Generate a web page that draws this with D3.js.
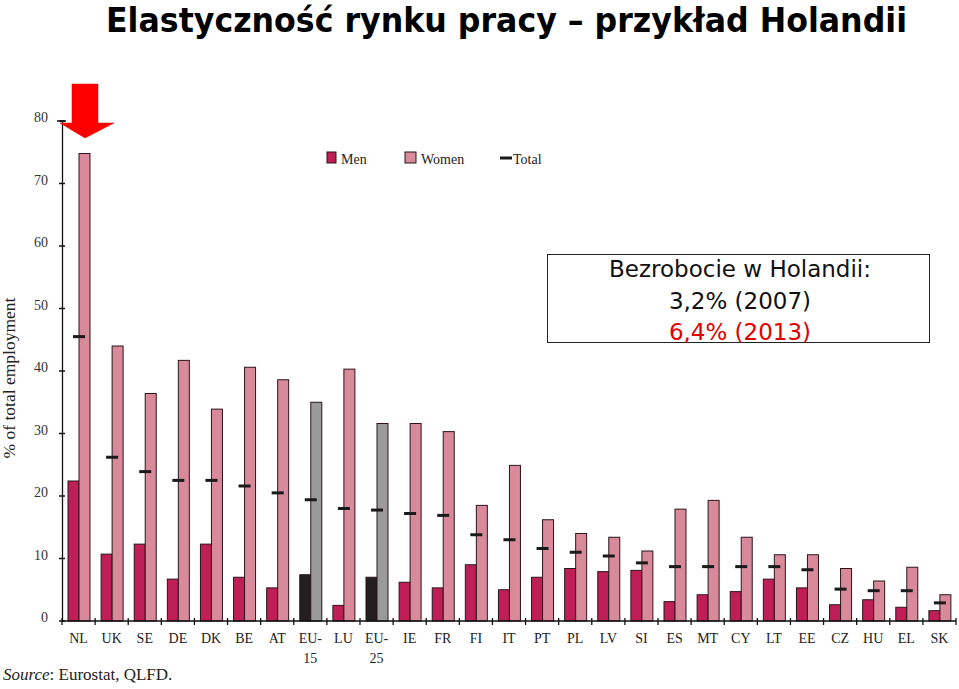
<!DOCTYPE html>
<html><head><meta charset="utf-8">
<script src="https://cdn.jsdelivr.net/npm/d3@7/dist/d3.min.js"></script>
<style>body{margin:0;background:#fff}svg{display:block}</style>
</head><body>
<script>
const categories = ["NL","UK","SE","DE","DK","BE","AT","EU-15","LU","EU-25","IE","FR","FI","IT","PT","PL","LV","SI","ES","MT","CY","LT","EE","CZ","HU","EL","SK"];
const men   = [22.4,10.7,12.3,6.7,12.3,7.0,5.3,7.4,2.5,7.0,6.2,5.3,9.0,5.0,7.0,8.4,7.9,8.1,3.1,4.2,4.7,6.7,5.3,2.6,3.4,2.2,1.65];
const women = [74.8,44.0,36.4,41.7,33.9,40.6,38.6,35.0,40.3,31.6,31.6,30.3,18.5,24.9,16.2,14.0,13.4,11.2,17.9,19.3,13.4,10.6,10.6,8.4,6.4,8.6,4.2];
const total = [45.5,26.2,23.9,22.5,22.5,21.6,20.5,19.4,18.0,17.75,17.2,16.9,13.8,13.0,11.6,11.0,10.4,9.3,8.7,8.7,8.7,8.7,8.2,5.1,4.85,4.85,2.9];
const yTicks = [0,10,20,30,40,50,60,70,80];
const aggregates = ["EU-15","EU-25"];

const W = 959, H = 689;
const svg = d3.select("body").append("svg").attr("width", W).attr("height", H);
const serif = "'Liberation Serif','Times New Roman',serif";

const x = d3.scaleBand().domain(categories).range([62, 956]);
const sub = d3.scaleBand().domain(["men","women"]).range([6, 28]);
const y = d3.scaleLinear().domain([0, 80]).range([621, 121]);

const colors = {men:"#BF1F56", women:"#D98A9A", aggMen:"#231F20", aggWomen:"#9A9A9A"};

// Title
svg.append("text").attr("x", 106).attr("y", 32)
  .attr("font-family", "'DejaVu Sans',Verdana,sans-serif").attr("font-weight", "bold")
  .attr("font-size", 33).attr("textLength", 801).attr("lengthAdjust", "spacingAndGlyphs")
  .text("Elastyczność rynku pracy – przykład Holandii");

const data = categories.map((c, i) => ({c, men: men[i], women: women[i], total: total[i]}));

const g = svg.append("g");
data.forEach(d => {
  const agg = aggregates.includes(d.c);
  ["men","women"].forEach(k => {
    g.append("rect")
      .attr("x", x(d.c) + sub(k)).attr("width", sub.bandwidth())
      .attr("y", y(d[k])).attr("height", y(0) - y(d[k]))
      .attr("fill", agg ? (k === "men" ? colors.aggMen : colors.aggWomen) : colors[k])
      .attr("stroke", "#2b1519").attr("stroke-width", 1);
  });
  g.append("rect")
    .attr("x", x(d.c) + sub("women") - 6).attr("width", 12)
    .attr("y", y(d.total) - 1.5).attr("height", 3)
    .attr("fill", "#1a1a1a");
});

// Y axis
const yAxis = d3.axisLeft(y).tickValues(yTicks).tickSize(0).tickPadding(14);
const ya = svg.append("g").attr("transform", "translate(62,0)").call(yAxis);
ya.select(".domain").attr("stroke", "#111").attr("stroke-width", 1.3);
ya.selectAll(".tick text").attr("font-family", serif).attr("font-size", 14).attr("fill", "#333").attr("dy", "0.05em");
yTicks.forEach(t => {
  svg.append("line").attr("x1", 59).attr("x2", 65).attr("y1", y(t)).attr("y2", y(t)).attr("stroke", "#111").attr("stroke-width", 1.5);
});
svg.append("line").attr("x1", 57).attr("x2", 66).attr("y1", y(80)).attr("y2", y(80)).attr("stroke", "#111").attr("stroke-width", 1.5);

// X axis
svg.append("line").attr("x1", x.range()[0]).attr("x2", x.range()[1]).attr("y1", y(0)).attr("y2", y(0)).attr("stroke", "#111").attr("stroke-width", 1.5);
categories.forEach(c => {
  svg.append("line").attr("x1", x(c)).attr("x2", x(c)).attr("y1", y(0) - 3).attr("y2", y(0) + 4).attr("stroke", "#111").attr("stroke-width", 1.3);
});
svg.append("line").attr("x1", x.range()[1]).attr("x2", x.range()[1]).attr("y1", y(0) - 3).attr("y2", y(0) + 4).attr("stroke", "#111").attr("stroke-width", 1.3);
categories.forEach(c => {
  const parts = c.includes("-") ? [c.split("-")[0] + "-", c.split("-")[1]] : [c];
  const t = svg.append("text").attr("x", x(c) + x.bandwidth() / 2).attr("y", 643)
    .attr("text-anchor", "middle").attr("font-family", serif).attr("font-size", 14).attr("fill", "#222");
  parts.forEach((p, i) => t.append("tspan").attr("x", x(c) + x.bandwidth() / 2).attr("dy", i ? 20 : 0).text(p));
});

// Y label
svg.append("text").attr("transform", "translate(15,378) rotate(-90)")
  .attr("text-anchor", "middle").attr("font-family", serif).attr("font-size", 17.5).attr("fill", "#222")
  .text("% of total employment");

// Legend
const lg = svg.append("g").attr("font-family", serif).attr("font-size", 14).attr("fill", "#222");
lg.append("rect").attr("x", 327).attr("y", 152).attr("width", 9).attr("height", 11).attr("fill", colors.men).attr("stroke", "#2b1519");
lg.append("text").attr("x", 341).attr("y", 164).text("Men");
lg.append("rect").attr("x", 405).attr("y", 152).attr("width", 11).attr("height", 11).attr("fill", colors.women).attr("stroke", "#2b1519");
lg.append("text").attr("x", 421).attr("y", 164).text("Women");
lg.append("rect").attr("x", 500).attr("y", 156.5).attr("width", 12).attr("height", 3).attr("fill", "#1a1a1a");
lg.append("text").attr("x", 513).attr("y", 164).text("Total");

// Source
const src = svg.append("text").attr("x", 3).attr("y", 680).attr("font-family", serif).attr("font-size", 17).attr("fill", "#222");
src.append("tspan").attr("font-style", "italic").text("Source");
src.append("tspan").text(": Eurostat, QLFD.");

// Red arrow pointing to NL
const ax = x("NL") + sub("women");
const yTop = y(80);
svg.append("path")
  .attr("d", `M${ax-7},84 L${ax+19},84 L${ax+19},${yTop+2} L${ax+35},${yTop+2} L${ax+6},${yTop+17} L${ax-19},${yTop+2} L${ax-7},${yTop+2} Z`)
  .attr("fill", "#FF0000").attr("stroke", "#d00000").attr("stroke-width", 0.5);

// Info box
svg.append("rect").attr("x", 547.5).attr("y", 254.5).attr("width", 382).attr("height", 88)
  .attr("fill", "#fff").attr("stroke", "#222").attr("stroke-width", 1);
const bx = 740;
const tf = "'DejaVu Sans',Verdana,sans-serif";
svg.append("text").attr("x", bx).attr("y", 277).attr("text-anchor", "middle").attr("font-family", tf).attr("font-size", 23).attr("fill", "#111").text("Bezrobocie w Holandii:");
svg.append("text").attr("x", bx).attr("y", 309).attr("text-anchor", "middle").attr("font-family", tf).attr("font-size", 23).attr("fill", "#111").text("3,2% (2007)");
svg.append("text").attr("x", bx).attr("y", 340).attr("text-anchor", "middle").attr("font-family", tf).attr("font-size", 23).attr("fill", "#E00000").text("6,4% (2013)");
</script>
</body></html>
